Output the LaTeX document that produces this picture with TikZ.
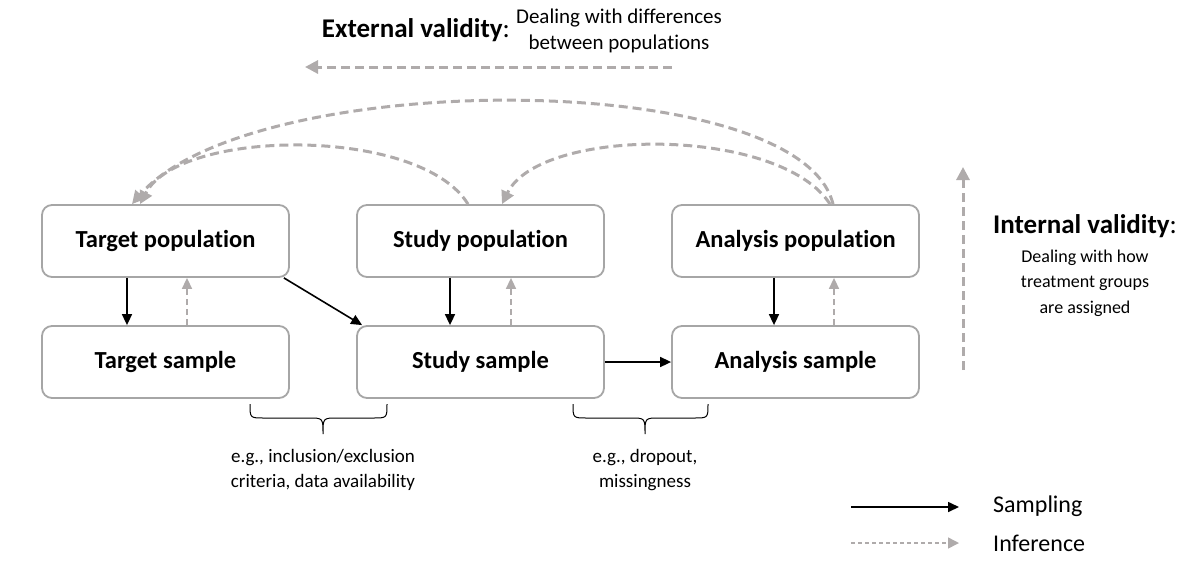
\documentclass[tikz,border=0pt]{standalone}
\usepackage{fontspec}
\setmainfont{Carlito}[Ligatures=NoCommon]
\usetikzlibrary{arrows.meta,calc}
\definecolor{boxgray}{HTML}{A6A6A6}
\definecolor{infgray}{HTML}{AFABAB}
\begin{document}
\begin{tikzpicture}[x=1pt,y=-1pt,
  box/.style={draw=boxgray, line width=1.8pt, rounded corners=10pt, minimum width=247pt, minimum height=72pt, inner sep=0pt, font=\fontsize{24.5}{28}\selectfont\bfseries},
  samp/.style={-{Triangle[length=11pt,width=10pt]}, line width=1.6pt, black},
  infs/.style={-{Triangle[length=11pt,width=10pt]}, line width=1.6pt, infgray, dash pattern=on 6pt off 4pt},
  infl/.style={-{Triangle[length=13pt,width=13pt]}, line width=3pt, infgray, dash pattern=on 9pt off 5pt},
  elbl/.style={font=\fontsize{21}{26}\selectfont, align=center, inner sep=0pt},
  ilbl/.style={font=\fontsize{18}{25.5}\selectfont, align=center, inner sep=0pt},
  blbl/.style={font=\fontsize{19}{25}\selectfont, align=center, inner sep=0pt},
  hd/.style={font=\fontsize{27}{30}\selectfont, inner sep=0pt},
  lg/.style={font=\fontsize{24}{28}\selectfont, inner sep=0pt},
  brc/.style={line width=1pt, black}
]
\useasboundingbox (0,0) rectangle (1196,574);

% boxes
\node[box] (tp) at (165.5,241) {Target population};
\node[box] (ts) at (165.5,362) {Target sample};
\node[box] (sp) at (480.5,241) {Study population};
\node[box] (ss) at (480.5,362) {Study sample};
\node[box] (ap) at (795.5,241) {Analysis population};
\node[box] (as) at (795.5,362) {Analysis sample};

% sampling arrows
\draw[samp] ([xshift=-38.5pt]tp.south) -- ([xshift=-38.5pt]ts.north);
\draw[samp] ([xshift=-30.5pt]sp.south) -- ([xshift=-30.5pt]ss.north);
\draw[samp] ([xshift=-21.5pt]ap.south) -- ([xshift=-21.5pt]as.north);
\draw[samp] ([xshift=-6pt]tp.south east) -- ([xshift=6pt]ss.north west);
\draw[samp] (ss.east) -- (as.west);

% inference arrows (short)
\draw[infs] ([xshift=21.5pt]ts.north) -- ([xshift=21.5pt]tp.south);
\draw[infs] ([xshift=30.5pt]ss.north) -- ([xshift=30.5pt]sp.south);
\draw[infs] ([xshift=38.5pt]as.north) -- ([xshift=38.5pt]ap.south);

% inference arcs
\draw[infl] ([xshift=37.5pt]ap.north) .. controls +(-33,-137) and +(118,-137) .. ([xshift=-33.5pt]tp.north);
\draw[infl] ([xshift=-12.5pt]sp.north) .. controls +(-48,-78) and +(40,-76) .. ([xshift=-25.5pt]tp.north);
\draw[infl] ([xshift=34.5pt]ap.north) .. controls +(-50,-78) and +(38,-78) .. ([xshift=21.5pt]sp.north);

% external validity
\node[hd, anchor=east] (ext) at (510,30) {\textbf{External validity}:};
\node[elbl] (extd) at (619,31) {Dealing with differences\\between populations};
\coordinate (exa) at (672,67);
\coordinate (exb) at (305,67);
\draw[infl] (exa) -- (exb);

% internal validity
\coordinate (ina) at (963,370);
\coordinate (inb) at (963,167);
\draw[infl] (ina) -- (inb);
\node[hd] (int) at (1085,226) {\textbf{Internal validity}:};
\node[ilbl] (intd) at (1085,283) {Dealing with how\\treatment groups\\are assigned};

% braces
\draw[brc] (250,404) .. controls (250,418) .. (264,418) -- (309,418) .. controls (323,418) .. (323,434) .. controls (323,418) .. (337,418) -- (373,418) .. controls (387,418) .. (387,404);
\draw[brc] (573,404) .. controls (573,418) .. (587,418) -- (631,418) .. controls (645,418) .. (645,434) .. controls (645,418) .. (659,418) -- (694,418) .. controls (708,418) .. (708,404);
\node[blbl] (b1) at (323,470) {e.g., inclusion/exclusion\\criteria, data availability};
\node[blbl] (b2) at (645,470) {e.g., dropout,\\missingness};

% legend
\coordinate (l1a) at (851,507);
\coordinate (l1b) at (959,507);
\coordinate (l2a) at (851,543);
\coordinate (l2b) at (959,543);
\draw[samp] (l1a) -- (l1b);
\draw[-{Triangle[length=11pt,width=11pt]}, line width=1.5pt, infgray, dash pattern=on 4pt off 3pt] (l2a) -- (l2b);
\node[lg, anchor=west] (lg1) at (993,506) {Sampling};
\node[lg, anchor=west] (lg2) at (993,543) {Inference};
\end{tikzpicture}
\end{document}
